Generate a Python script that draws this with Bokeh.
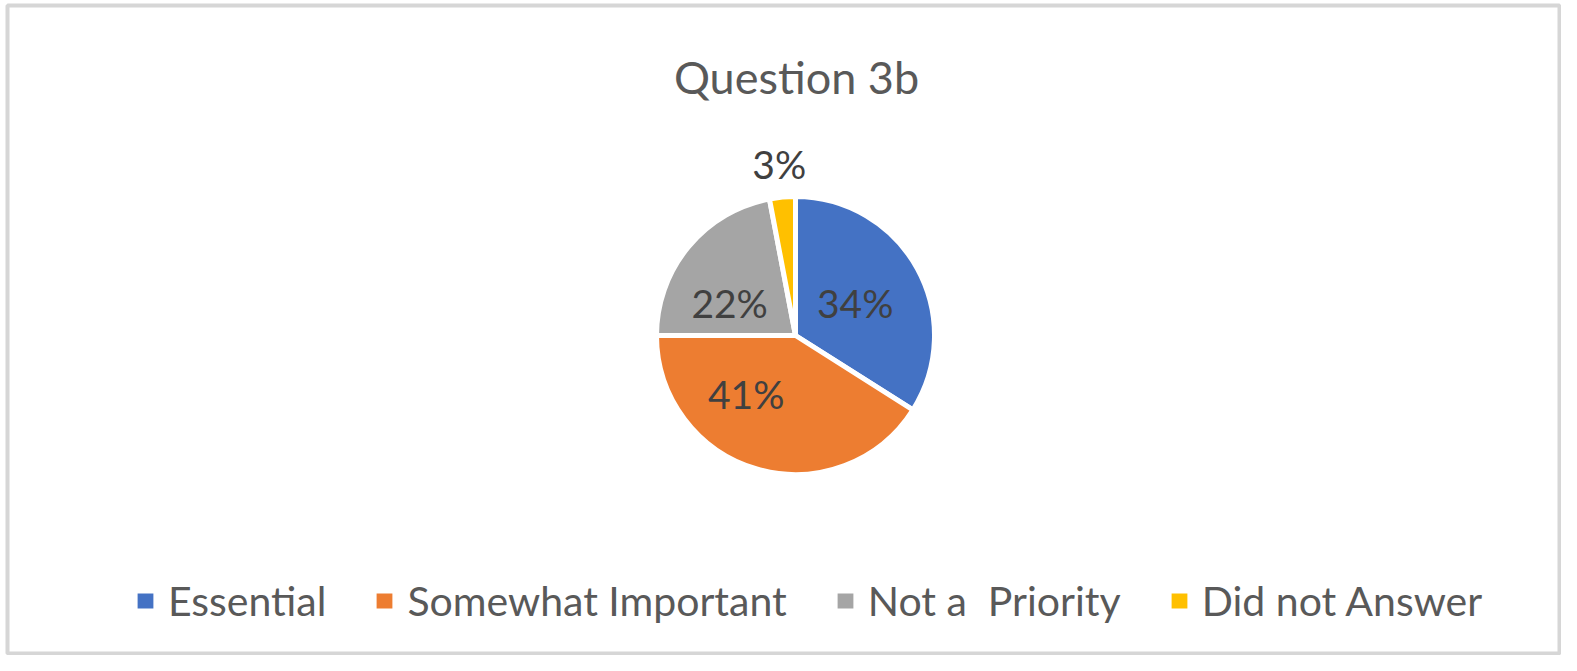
import math
from bokeh.plotting import figure
from bokeh.models import ColumnDataSource, Legend, LegendItem, Range1d
from bokeh.core.properties import value
from bokeh.embed import file_html
from bokeh.resources import INLINE

# ---------------- data ----------------
title_text = "Question 3b"
categories = ["Essential", "Somewhat Important", "Not a  Priority", "Did not Answer"]
percentages = [34, 41, 22, 3]
label_texts = [f"{v}%" for v in percentages]

# ---------------- style / layout ----------------
colors = ["#4472C4", "#ED7D31", "#A5A5A5", "#FFC000"]
FONT = "Lato"
W, H = 1561, 655
BL, BT, BR, BB = 7, 5, 2, 2          # frame insets (outline = chart border)
CX, CY, R = 795, 655 - 335, 139      # pie centre / radius in screen-aligned data units
label_radius_frac = [0.49, 0.55, 0.53, 1.24]
label_angle_nudge_deg = [0, -24, 13, 0]
LABEL_FS = 39
TITLE_FS = 45
LEGEND_FS = 41

p = figure(width=W, height=H, output_backend="svg", toolbar_location=None,
           x_range=Range1d(BL, W - BR), y_range=Range1d(BB, H - BT),
           min_border_left=BL, min_border_top=BT, min_border_right=BR,
           min_border_bottom=BB,
           background_fill_color="white", border_fill_color="white")
p.axis.visible = False
p.xgrid.visible = False
p.ygrid.visible = False
p.outline_line_color = "#D6D6D6"
p.outline_line_width = 4

total = sum(percentages)
starts, ends, mids = [], [], []
cum = 0
for v in percentages:
    a_end = math.pi / 2 - 2 * math.pi * cum / total
    a_start = math.pi / 2 - 2 * math.pi * (cum + v) / total
    starts.append(a_start)
    ends.append(a_end)
    mids.append((a_start + a_end) / 2)
    cum += v

src = ColumnDataSource(dict(x=[CX] * len(percentages), y=[CY] * len(percentages),
                            start=starts, end=ends, color=colors,
                            cat=categories, pct=percentages))
pie = p.wedge(x="x", y="y", radius=R, start_angle="start", end_angle="end",
              direction="anticlock", fill_color="color", line_color="white",
              line_width=5, source=src)

# slice labels
lx, ly = [], []
for i, m in enumerate(mids):
    a = m + math.radians(label_angle_nudge_deg[i])
    r = R * label_radius_frac[i]
    lx.append(CX + r * math.cos(a))
    ly.append(CY + r * math.sin(a))
lab_src = ColumnDataSource(dict(x=lx, y=ly, t=label_texts))
p.text(x="x", y="y", text="t", source=lab_src, text_align="center",
       text_baseline="middle", text_font=value(FONT),
       text_font_size=f"{LABEL_FS}px", text_color="#404040")

# title
p.text(x=[796], y=[H - 76], text=[title_text], text_align="center",
       text_baseline="middle", text_font=value(FONT),
       text_font_size=f"{TITLE_FS}px", text_color="#595959")

# legend (square swatches taken from the pie wedges)
items = [LegendItem(label=c, renderers=[pie], index=i) for i, c in enumerate(categories)]
legend = Legend(items=items, orientation="horizontal", location=(125, 28),
                glyph_width=26, glyph_height=25, label_standoff=10, spacing=45,
                padding=0, margin=0, border_line_alpha=0, background_fill_alpha=0,
                label_text_font=FONT, label_text_font_size=f"{LEGEND_FS}px",
                label_text_color="#595959")
p.add_layout(legend, "center")

open("out.html", "w").write(file_html(p, INLINE))
